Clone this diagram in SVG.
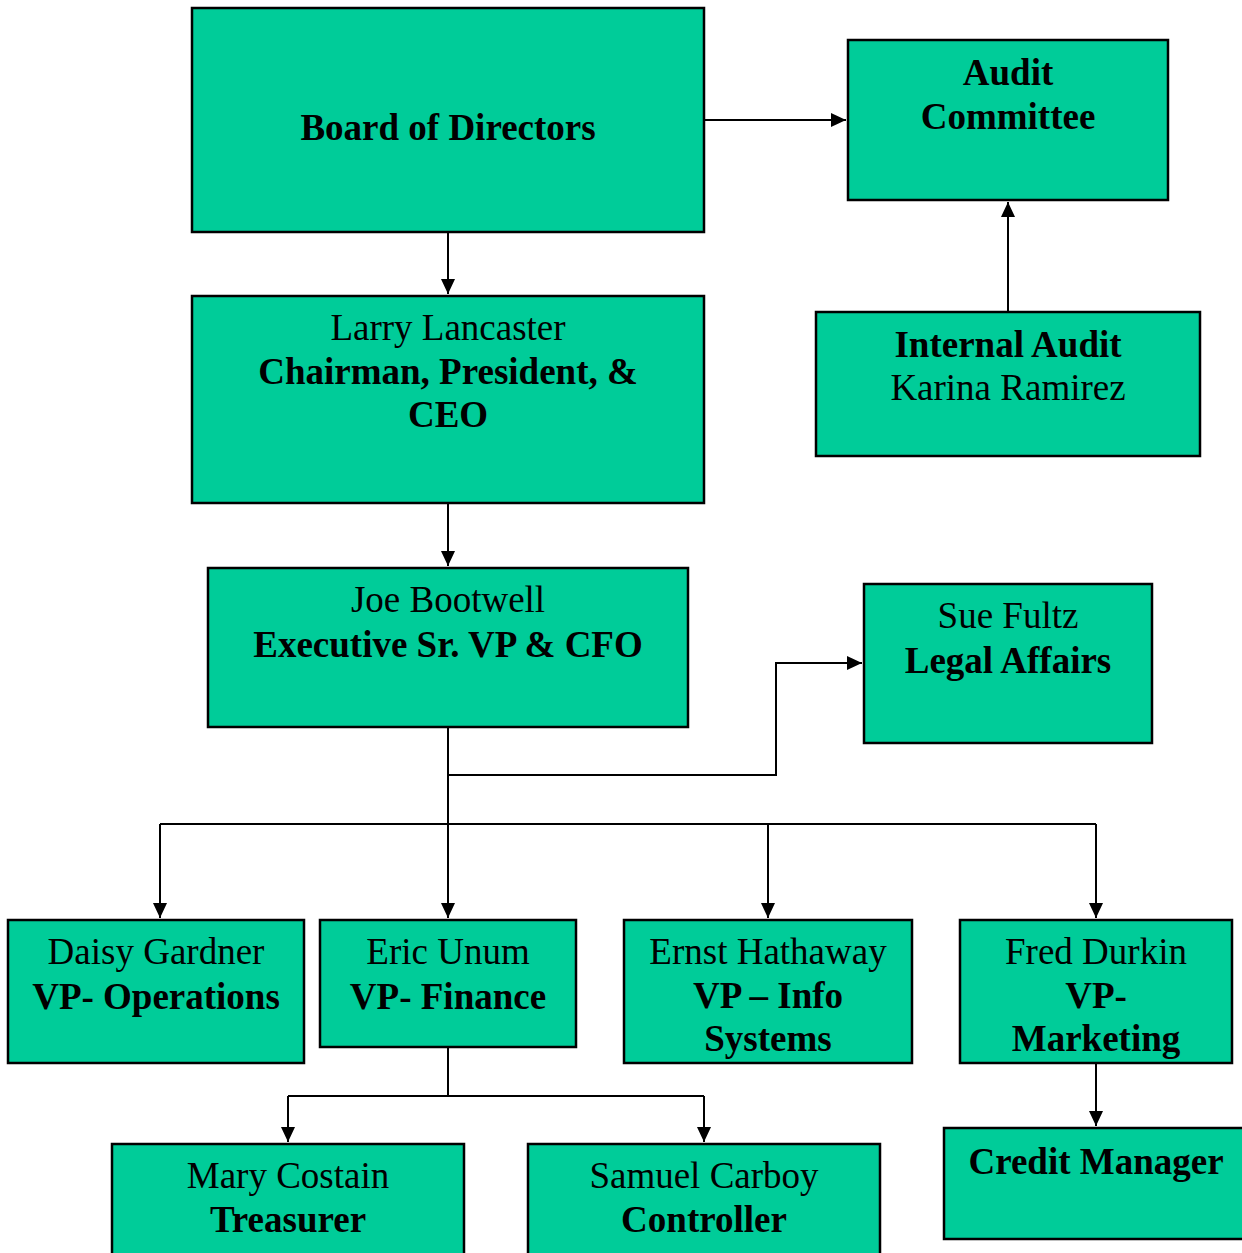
<svg xmlns="http://www.w3.org/2000/svg" width="1242" height="1253" viewBox="0 0 1242 1253">
<style>
.box{fill:#00CC99;stroke:#000;stroke-width:2.5}
text{font-family:"Liberation Serif","Times New Roman",serif;font-size:37px;fill:#000;text-anchor:middle}
.b{font-weight:bold}
.c{fill:none;stroke:#000;stroke-width:2}
</style>
<defs>
<marker id="ah" markerUnits="userSpaceOnUse" markerWidth="16" markerHeight="14" refX="15" refY="7" orient="auto">
<path d="M0,0 L15,7 L0,14 Z" fill="#000"/>
</marker>
</defs>
<rect width="1242" height="1253" fill="#fff"/>
<g id="connectors">
<path class="c" d="M704,120 H846" marker-end="url(#ah)"/>
<path class="c" d="M448,232 V294" marker-end="url(#ah)"/>
<path class="c" d="M1008,312 V202" marker-end="url(#ah)"/>
<path class="c" d="M448,503 V566" marker-end="url(#ah)"/>
<path class="c" d="M448,727 V775 H776 V663 H862" marker-end="url(#ah)"/>
<path class="c" d="M448,775 V918" marker-end="url(#ah)"/>
<path class="c" d="M160,824 H1096"/>
<path class="c" d="M160,824 V918" marker-end="url(#ah)"/>
<path class="c" d="M768,824 V918" marker-end="url(#ah)"/>
<path class="c" d="M1096,824 V918" marker-end="url(#ah)"/>
<path class="c" d="M448,1047 V1096"/>
<path class="c" d="M288,1096 H704"/>
<path class="c" d="M288,1096 V1142" marker-end="url(#ah)"/>
<path class="c" d="M704,1096 V1142" marker-end="url(#ah)"/>
<path class="c" d="M1096,1063 V1126" marker-end="url(#ah)"/>
</g>
<g id="board"><rect class="box" x="192" y="8" width="512" height="224"/><text class="b" x="448" y="140">Board of Directors</text></g>
<g id="audit"><rect class="box" x="848" y="40" width="320" height="160"/><text class="b" x="1008" y="85">Audit</text><text class="b" x="1008" y="129">Committee</text></g>
<g id="larry"><rect class="box" x="192" y="296" width="512" height="207"/><text x="448" y="340">Larry Lancaster</text><text class="b" x="448" y="384">Chairman, President, &amp;</text><text class="b" x="448" y="427">CEO</text></g>
<g id="internal"><rect class="box" x="816" y="312" width="384" height="144"/><text class="b" x="1008" y="357">Internal Audit</text><text x="1008" y="400">Karina Ramirez</text></g>
<g id="joe"><rect class="box" x="208" y="568" width="480" height="159"/><text x="448" y="612">Joe Bootwell</text><text class="b" x="448" y="657">Executive Sr. VP &amp; CFO</text></g>
<g id="sue"><rect class="box" x="864" y="584" width="288" height="159"/><text x="1008" y="628">Sue Fultz</text><text class="b" x="1008" y="673">Legal Affairs</text></g>
<g id="daisy"><rect class="box" x="8" y="920" width="296" height="143"/><text x="156" y="964">Daisy Gardner</text><text class="b" x="156" y="1009">VP- Operations</text></g>
<g id="eric"><rect class="box" x="320" y="920" width="256" height="127"/><text x="448" y="964">Eric Unum</text><text class="b" x="448" y="1009">VP- Finance</text></g>
<g id="ernst"><rect class="box" x="624" y="920" width="288" height="143"/><text x="768" y="964">Ernst Hathaway</text><text class="b" x="768" y="1008">VP – Info</text><text class="b" x="768" y="1051">Systems</text></g>
<g id="fred"><rect class="box" x="960" y="920" width="272" height="143"/><text x="1096" y="964">Fred Durkin</text><text class="b" x="1096" y="1008">VP-</text><text class="b" x="1096" y="1051">Marketing</text></g>
<g id="mary"><rect class="box" x="112" y="1144" width="352" height="130"/><text x="288" y="1188">Mary Costain</text><text class="b" x="288" y="1232">Treasurer</text></g>
<g id="samuel"><rect class="box" x="528" y="1144" width="352" height="130"/><text x="704" y="1188">Samuel Carboy</text><text class="b" x="704" y="1232">Controller</text></g>
<g id="credit"><rect class="box" x="944" y="1128" width="320" height="111"/><text class="b" x="1096" y="1174">Credit Manager</text></g>
</svg>
